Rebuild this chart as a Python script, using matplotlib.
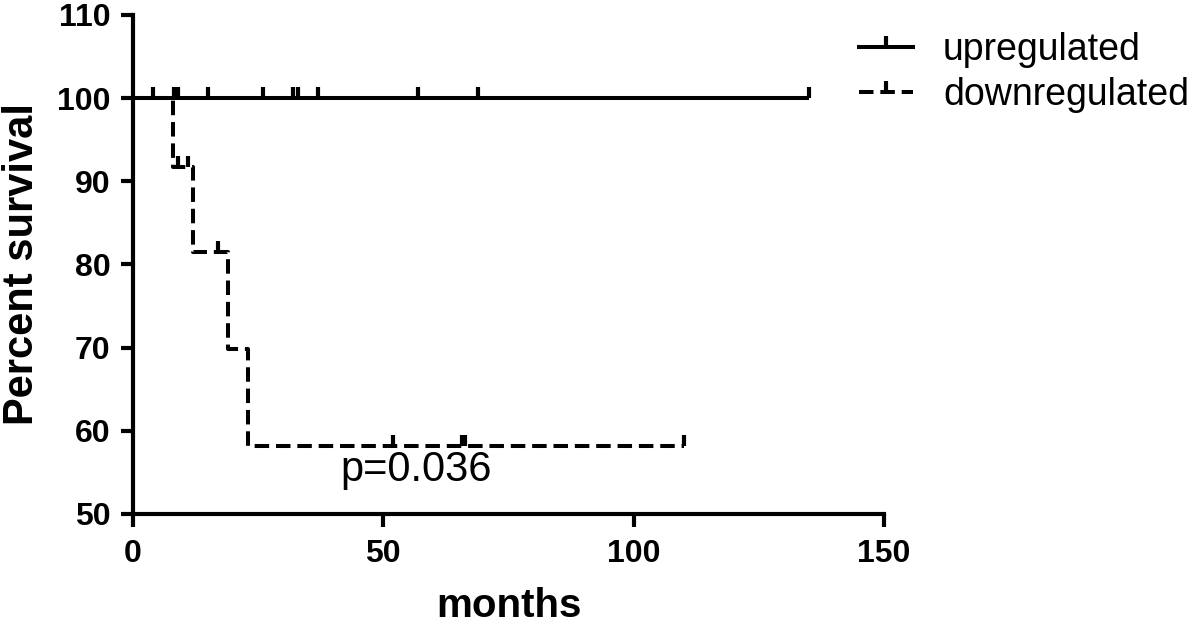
import matplotlib
matplotlib.use("Agg")
import matplotlib.pyplot as plt
from matplotlib.lines import Line2D

plt.rcParams['font.family'] = ['Liberation Sans', 'DejaVu Sans']

# Kaplan-Meier step data
up_times = [0, 135]
up_surv = [100, 100]
up_censor_t = [4, 8.1, 8.9, 15, 26, 32, 33, 37, 57, 69, 135]
up_censor_s = [100] * len(up_censor_t)

down_times = [0, 8, 12, 19, 23, 110]
down_surv = [100, 91.67, 81.48, 69.84, 58.2, 58.2]
down_censor_t = [9, 11, 17, 52, 65.7, 66.4, 110]
down_censor_s = [91.67, 91.67, 81.48, 58.2, 58.2, 58.2, 58.2]

labels = ["upregulated", "downregulated"]
p_text = "p=0.036"

fig = plt.figure(figsize=(12, 6.24), dpi=100)
ax = fig.add_axes([0.1108, 0.1763, 0.7367 - 0.1108, 0.976 - 0.1763])

lw = 2.9
dash = (3.6, 1.7)
ms = 8
ax.step(up_times, up_surv, where='post', color='black', lw=lw, solid_capstyle='butt')
ax.plot(up_censor_t, up_censor_s, ls='none', marker=2, ms=ms, mew=3, color='black')
ax.step(down_times, down_surv, where='post', color='black', lw=lw, dashes=dash)
ax.plot(down_censor_t, down_censor_s, ls='none', marker=2, ms=ms, mew=3, color='black')

ax.set_xlim(0, 150)
ax.set_ylim(50, 110)
ax.set_xticks([0, 50, 100, 150])
ax.set_yticks([50, 60, 70, 80, 90, 100, 110])
for s in ['top', 'right']:
    ax.spines[s].set_visible(False)
for s in ['left', 'bottom']:
    ax.spines[s].set_linewidth(3)
ax.tick_params(direction='out', length=9, width=3, labelsize=23)
ax.tick_params(axis='x', pad=9)
ax.tick_params(axis='y', pad=7)
for lab in ax.get_xticklabels() + ax.get_yticklabels():
    lab.set_fontweight('bold')
ax.set_xlabel("months", fontsize=29, fontweight='bold', labelpad=13)
ax.set_ylabel("Percent survival", fontsize=30, fontweight='bold', labelpad=11)

ax.text(56.5, 55.3, p_text, fontsize=30, ha='center', va='center')

h1 = Line2D([0], [0], color='black', lw=lw, marker=2, ms=ms, mew=3)
h2 = Line2D([0], [0], color='black', lw=lw, dashes=dash, marker=2, ms=ms, mew=3)
fig.legend([h1, h2], labels, loc='upper left', bbox_to_anchor=(0.703, 0.972),
           frameon=False, fontsize=27, handlelength=1.45, handletextpad=0.8,
           labelspacing=0.22, numpoints=1, borderaxespad=0)

fig.savefig("out.png", dpi=100)
